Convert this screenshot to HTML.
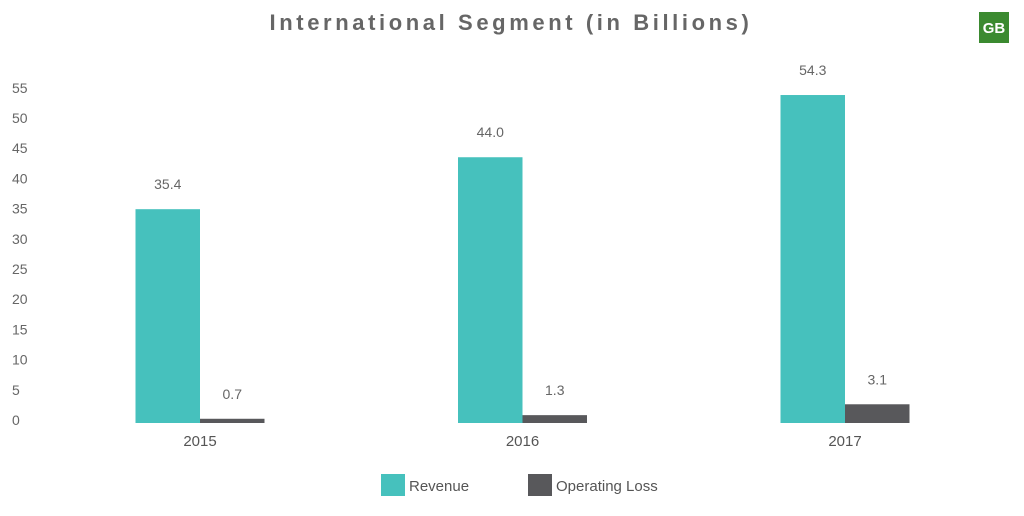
<!DOCTYPE html>
<html><head><meta charset="utf-8"><style>
body{margin:0;background:#fff;width:1024px;height:511px;overflow:hidden;font-family:"Liberation Sans",sans-serif}
</style></head><body>
<svg width="1024" height="511">
<text x="511" y="30" text-anchor="middle" font-size="22" font-weight="bold" fill="#666" letter-spacing="3.6">International Segment (in Billions)</text>
<g><rect x="979" y="12" width="30" height="31" fill="#3b8a30"/><text x="994" y="33" text-anchor="middle" font-size="15" font-weight="bold" fill="#fff">GB</text></g>
<g id="yaxis"></g>
<g id="bars"></g>
<g>
<g><rect x="381" y="474" width="24" height="22" fill="#46c1bd"/><text x="409" y="491" font-size="15" fill="#555">Revenue</text></g>
<g><rect x="528" y="474" width="24" height="22" fill="#58585b"/><text x="556" y="491" font-size="15" fill="#555">Operating Loss</text></g>
</g>
</svg>
<script>
const categories=["2015","2016","2017"];
const revenue=[35.4,44.0,54.3];
const operatingLoss=[0.7,1.3,3.1];
const yTicks=[0,5,10,15,20,25,30,35,40,45,50,55];
const NS="http://www.w3.org/2000/svg";
const y0=423,k=6.04;
function y(v){return y0-v*k;}
function xc(i){return 200+i*322.5;}
function mk(t,a,p){const e=document.createElementNS(NS,t);for(const n in a)e.setAttribute(n,a[n]);p.appendChild(e);return e;}
const ya=document.getElementById('yaxis');
yTicks.forEach(v=>{const t=mk('text',{x:12,y:y(v)+2,'font-size':14,fill:'#666'},ya);t.textContent=v;

});
const bg=document.getElementById('bars');
categories.forEach((c,i)=>{
 const cx=xc(i),w=64.5;
 const r=mk('rect',{x:cx-w,y:y(revenue[i]),width:w,height:y0-y(revenue[i]),fill:'#46c1bd'},bg);
 
 
 const l=mk('rect',{x:cx,y:y(operatingLoss[i]),width:w,height:y0-y(operatingLoss[i]),fill:'#58585b'},bg);
 
 
 const t1=mk('text',{x:cx-w/2,y:y(revenue[i])-20,'text-anchor':'middle','font-size':14,fill:'#666'},bg);t1.textContent=revenue[i].toFixed(1);
 
 
 const t2=mk('text',{x:cx+w/2,y:y(operatingLoss[i])-20,'text-anchor':'middle','font-size':14,fill:'#666'},bg);t2.textContent=operatingLoss[i].toFixed(1);
 
 
 const xl=mk('text',{x:cx,y:446,'text-anchor':'middle','font-size':15,fill:'#555'},bg);xl.textContent=c;
 
 
});
</script>
</body></html>
